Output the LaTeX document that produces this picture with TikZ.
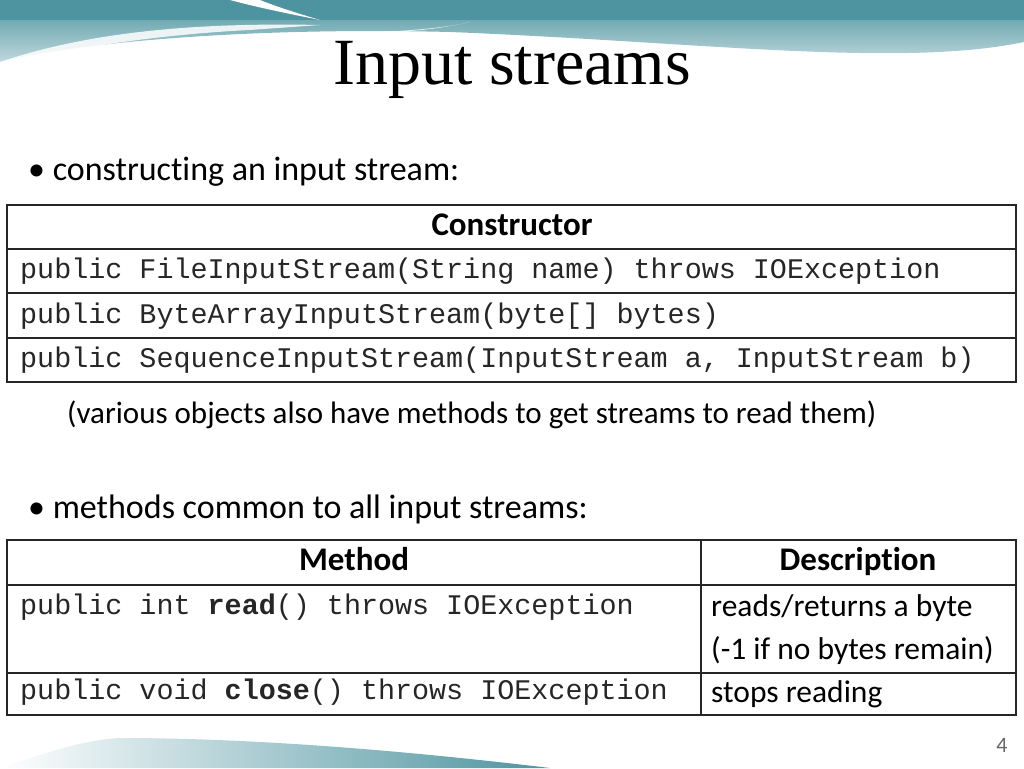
\documentclass[tikz,border=0pt]{standalone}
\usepackage{fontspec}
\setmainfont[Ligatures={NoCommon}]{Carlito}
\newfontfamily\titlefont{Liberation Serif}
\newfontfamily\monof{Liberation Mono}
\begin{document}
\begin{tikzpicture}[x=1pt,y=-1pt,
  cell/.style={draw=black!85,line width=1.6pt},
  mono/.style={anchor=west,font=\monof\fontsize{28.4}{30}\selectfont,inner sep=0,text=black!85},
  hdr/.style={font=\bfseries\fontsize{33}{35}\selectfont,inner sep=0,text height=22pt,text depth=7pt},
  body/.style={anchor=west,font=\fontsize{31.5}{33}\selectfont,inner sep=0}]
\definecolor{teal1}{HTML}{4E94A0}
\useasboundingbox (0,0) rectangle (1024,768);
% top decoration
\shade[top color=teal1,bottom color=teal1!30] (0,0) -- (1024,0) -- (1024,42) .. controls (900,68) and (700,42) .. (450,32) .. controls (250,27) and (80,42) .. (0,62) -- cycle;
\fill[teal1] (0,0) rectangle (1024,20);
\fill[white,opacity=0.85] (0,62) .. controls (80,35) and (180,22) .. (320,25) -- (250,30) .. controls (150,35) and (60,50) .. (0,66) -- cycle;
\fill[white] (230,0) -- (260,0) .. controls (280,8) and (300,14) .. (320,20) .. controls (290,14) and (260,8) .. (230,0) -- cycle;
\fill[white,opacity=0.8] (380,32) .. controls (420,30) and (450,27) .. (470,22) .. controls (440,29) and (410,32) .. (380,32) -- cycle;
% bottom decoration
\shade[left color=white,right color=teal1] (0,768) .. controls (40,755) and (80,740) .. (120,738) .. controls (250,738) and (400,750) .. (550,768) -- cycle;
% title
\node[font=\titlefont\fontsize{66}{68}\selectfont] (title) at (512,70) {Input streams};
% bullets
\node[body,font=\fontsize{34}{36}\selectfont] (b1) at (28,172) {\textbullet\ constructing an input stream:};
\node[body,font=\fontsize{31}{33}\selectfont] (note) at (67,415) {(various objects also have methods to get streams to read them)};
\node[body,font=\fontsize{34}{36}\selectfont] (b2) at (28,509) {\textbullet\ methods common to all input streams:};
% table 1
\draw[cell] (7,205) rectangle (1016,382);
\draw[cell] (7,249) -- (1016,249) (7,293) -- (1016,293) (7,338) -- (1016,338);
\node[hdr] (c0) at (512,228) {Constructor};
\node[mono] (c1) at (20,271) {public FileInputStream(String name) throws IOException};
\node[mono] (c2) at (20,316) {public ByteArrayInputStream(byte[] bytes)};
\node[mono] (c3) at (20,360) {public SequenceInputStream(InputStream a, InputStream b)};
% table 2
\draw[cell] (7,540) rectangle (1016,715);
\draw[cell] (7,585) -- (1016,585) (7,673) -- (1016,673) (701,540) -- (701,715);
\node[hdr] (m0) at (354,563) {Method};
\node[hdr] (d0) at (858,563) {Description};
\node[mono] (m1) at (20,607) {public int \textbf{read}() throws IOException};
\node[body] (d1) at (711,608) {reads/returns a byte};
\node[body] (d1b) at (711,651) {(-1 if no bytes remain)};
\node[mono] (m2) at (20,692) {public void \textbf{close}() throws IOException};
\node[body] (d2) at (711,694) {stops reading};
\node[font=\fontsize{22}{24}\selectfont,text=black!60] (pg) at (1002,745) {4};
\end{tikzpicture}
\end{document}
